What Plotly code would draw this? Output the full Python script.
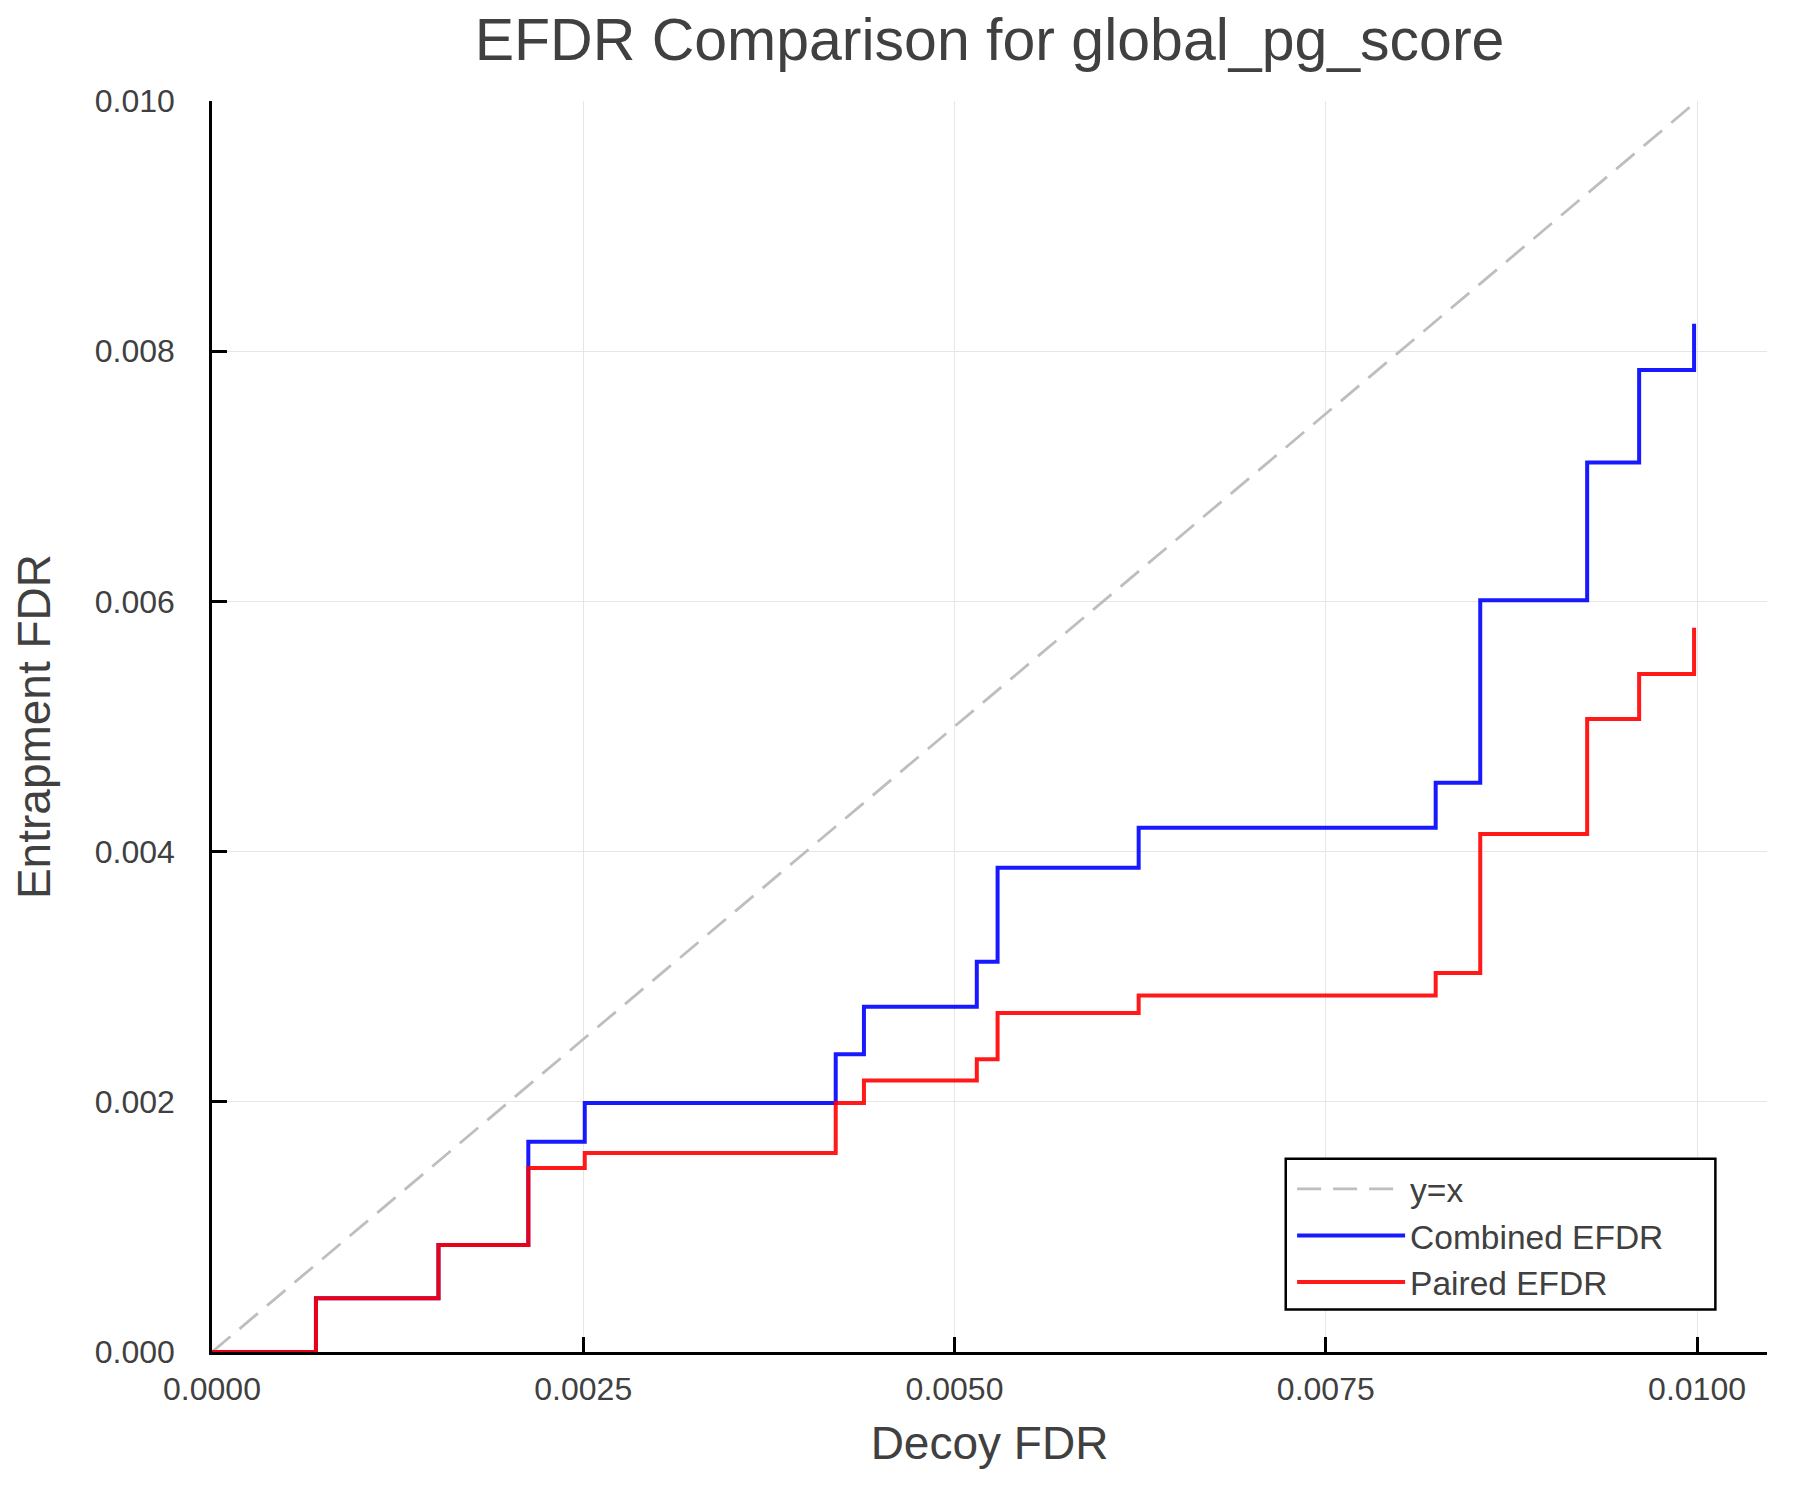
import plotly.graph_objects as go

# step points (decoy FDR -> entrapment FDR)
decoy_fdr = [0.0, 0.00070, 0.001525, 0.00213, 0.00251, 0.00420, 0.00439, 0.00515,
             0.00529, 0.00624, 0.00824, 0.00854, 0.00926, 0.00961, 0.00998]
combined_efdr = [0.0, 0.00043, 0.000855, 0.00168, 0.00199, 0.00238, 0.00276, 0.00312,
                 0.00387, 0.00419, 0.00455, 0.00601, 0.00711, 0.00785, 0.00822]
paired_efdr = [0.0, 0.00043, 0.000855, 0.00147, 0.00159, 0.00199, 0.00217, 0.00234,
               0.00271, 0.00285, 0.00303, 0.00414, 0.00506, 0.00542, 0.00579]
diag = [0.0, 0.01]

x_ticks = [0.0, 0.0025, 0.005, 0.0075, 0.01]
y_ticks = [0.0, 0.002, 0.004, 0.006, 0.008, 0.01]

FONT = "Liberation Sans, Helvetica, Arial, sans-serif"
TXT = "#404040"

fig = go.Figure()
fig.add_trace(go.Scatter(x=diag, y=diag, mode="lines", name="y=x",
                         line=dict(color="#bebebe", width=2.8, dash="24px,12px")))
fig.add_trace(go.Scatter(x=decoy_fdr, y=combined_efdr, mode="lines", name="Combined EFDR",
                         line=dict(color="rgba(0,0,255,0.9)", width=4, shape="hv")))
fig.add_trace(go.Scatter(x=decoy_fdr, y=paired_efdr, mode="lines", name="Paired EFDR",
                         line=dict(color="rgba(255,0,0,0.9)", width=4, shape="hv")))

axis_common = dict(
    showline=True, linecolor="black", linewidth=2.5,
    ticks="inside", ticklen=15, tickwidth=2.5, tickcolor="black",
    showgrid=True, gridcolor="#e6e6e6", gridwidth=1.2,
    zeroline=False, tickfont=dict(size=32, color=TXT, family=FONT),
)

# legend frame (wider than plotly's own legend box, as in the original)
fig.add_shape(type="rect", xref="paper", yref="paper",
              x0=0.6905, x1=0.9668, y0=0.034, y1=0.1544,
              fillcolor="white", line=dict(color="black", width=2.5), layer="above")

fig.update_layout(
    width=1800, height=1500,
    paper_bgcolor="white", plot_bgcolor="white",
    margin=dict(l=204, r=41, t=93, b=156),
    font=dict(family=FONT, color=TXT),
    title=dict(text="EFDR Comparison for global_pg_score", x=0.5, xref="paper",
               y=1 - 31 / 1500, yref="container", yanchor="middle", xanchor="center",
               font=dict(size=59, color=TXT, family=FONT)),
    xaxis=dict(axis_common, range=[0, 0.010471], tickvals=x_ticks, tickformat=".4f",
               ticklabelstandoff=7,
               title=dict(text="Decoy FDR", font=dict(size=46, color=TXT, family=FONT), standoff=21)),
    yaxis=dict(axis_common, range=[0, 0.01], tickvals=y_ticks, tickformat=".3f",
               ticklabelstandoff=28,
               title=dict(text="Entrapment FDR", font=dict(size=46, color=TXT, family=FONT), standoff=34)),
    legend=dict(x=0.6946, y=0.153, xanchor="left", yanchor="top",
                bgcolor="rgba(0,0,0,0)", borderwidth=0,
                font=dict(size=33.5, color=TXT, family=FONT), itemwidth=108),
)

fig.write_html("out.html")
